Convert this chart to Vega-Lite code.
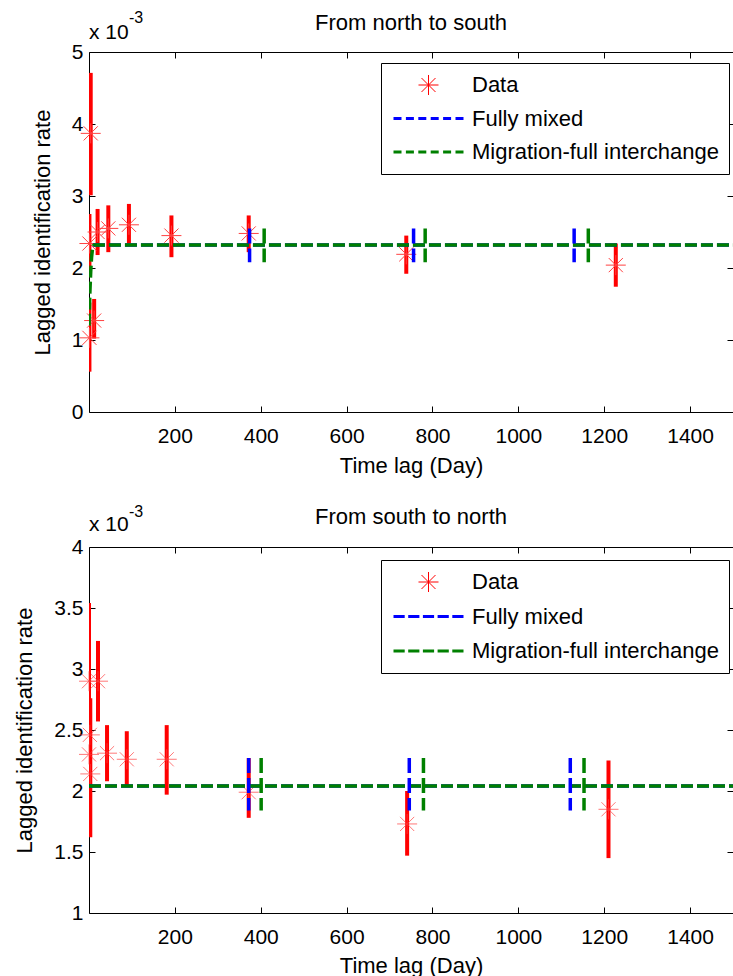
{
  "$schema": "https://vega.github.io/schema/vega-lite/v6.json",
  "background": "white",
  "padding": {"left": 13, "top": 10, "right": 0, "bottom": 0},
  "spacing": 28,
  "config": {
    "font": "Liberation Sans",
    "view": {"stroke": null},
    "axis": {"labelFont": "Liberation Sans", "titleFont": "Liberation Sans", "labelFontSize": 21, "titleFontSize": 22, "titleFontWeight": "normal", "labelColor": "black", "titleColor": "black", "domainColor": "black", "tickColor": "black", "grid": false, "tickSize": -6, "tickWidth": 1, "domainWidth": 1, "labelFlush": false, "labelOverlap": false},
    "title": {"font": "Liberation Sans", "fontSize": 22, "fontWeight": "normal", "color": "black", "anchor": "middle", "offset": -25},
    "legend": {"orient": "none", "strokeColor": "black", "fillColor": "white", "padding": 9, "labelFont": "Liberation Sans", "labelFontSize": 22, "labelColor": "black", "labelOffset": 7, "symbolOffset": 2, "rowPadding": 7.5, "clipHeight": 26, "symbolFillColor": "transparent", "labelLimit": 400}
  },
  "resolve": {"scale": {"x": "independent", "y": "independent", "color": "independent"}, "axis": {"x": "independent", "y": "independent"}, "legend": {"color": "independent"}},
  "vconcat": [
    {
      "width": 644,
      "height": 360,
      "title": {"text": "From north to south"},
      "resolve": {"axis": {"x": "independent", "y": "independent"}},
      "layer": [
        {
          "data": {"values": [
            {"series": "Data", "lag": 1, "rate": 2.34, "lo": 1.90, "hi": 2.75},
            {"series": "Data", "lag": 4, "rate": 3.87, "lo": 3.01, "hi": 4.71},
            {"series": "Data", "lag": 1, "rate": 1.03, "lo": 0.56, "hi": 1.52},
            {"series": "Data", "lag": 12, "rate": 1.27, "lo": 1.02, "hi": 1.57},
            {"series": "Data", "lag": 20, "rate": 2.50, "lo": 2.18, "hi": 2.82},
            {"series": "Data", "lag": 45, "rate": 2.55, "lo": 2.22, "hi": 2.87},
            {"series": "Data", "lag": 93, "rate": 2.60, "lo": 2.34, "hi": 2.89},
            {"series": "Data", "lag": 192, "rate": 2.45, "lo": 2.15, "hi": 2.73},
            {"series": "Data", "lag": 372, "rate": 2.48, "lo": 2.22, "hi": 2.73},
            {"series": "Data", "lag": 739, "rate": 2.19, "lo": 1.92, "hi": 2.45},
            {"series": "Data", "lag": 1227, "rate": 2.04, "lo": 1.74, "hi": 2.34}
          ]},
          "resolve": {"axis": {"x": "independent", "y": "independent"}},
          "layer": [
            {
              "mark": {"type": "rule", "strokeWidth": 4, "clip": true},
              "encoding": {
                "x": {"field": "lag", "type": "quantitative", "scale": {"domain": [0, 1500], "nice": false, "zero": false}, "axis": {"orient": "bottom", "values": [200, 400, 600, 800, 1000, 1200, 1400], "format": "d", "title": "Time lag (Day)", "labelPadding": 19, "titlePadding": 9}},
                "y": {"field": "lo", "type": "quantitative", "scale": {"domain": [0, 5], "nice": false, "zero": false}, "axis": {"orient": "left", "values": [0, 1, 2, 3, 4, 5], "format": "d", "title": "Lagged identification rate", "labelPadding": 12, "titlePadding": 17}},
                "y2": {"field": "hi"},
                "color": {"field": "series", "type": "nominal", "scale": {"domain": ["Data", "Fully mixed", "Migration-full interchange"], "range": ["#ff0000", "#0000ff", "#008000"]},
                  "legend": {"title": null, "legendX": 292, "legendY": 11,
                    "encode": {"symbols": {"update": {
                      "shape": {"signal": "(datum.value === 'Data' ? 'M-0.286,0H0.286M0,-0.286V0.286M-0.2,-0.2L0.2,0.2M-0.2,0.2L0.2,-0.2' : 'M-1,0h0.2286M-0.6457,0h0.2286M-0.2914,0h0.2286M0.0629,0h0.2286M0.4171,0h0.2286M0.7714,0h0.2286')"},
                      "strokeWidth": {"signal": "(datum.value === 'Data' ? 1 : 3)"},
                      "stroke": {"signal": "(datum.value === 'Data' ? '#ff4040' : datum.value === 'Fully mixed' ? '#0000ff' : '#008000')"},
                      "fill": {"value": "transparent"},
                      "size": {"value": 4900}
                    }}}}}
              }
            },
            {
              "mark": {"type": "point", "shape": "M-1,0H1M0,-1V1M-0.707,-0.707L0.707,0.707M-0.707,0.707L0.707,-0.707", "size": 400, "filled": false, "stroke": "#ff4040", "strokeWidth": 1, "opacity": 1},
              "encoding": {
                "x": {"field": "lag", "type": "quantitative", "scale": {"domain": [0, 1500], "nice": false, "zero": false}, "axis": null},
                "y": {"field": "rate", "type": "quantitative", "scale": {"domain": [0, 5], "nice": false, "zero": false}, "axis": null}
              }
            }
          ]
        },
        {
          "data": {"values": [
            {"series": "Fully mixed", "lag": 0, "rate": 2.32},
            {"series": "Fully mixed", "lag": 1500, "rate": 2.32}
          ]},
          "mark": {"type": "line", "strokeWidth": 3.5, "strokeDash": [12, 4], "strokeDashOffset": 12, "clip": true},
          "encoding": {
            "x": {"field": "lag", "type": "quantitative", "scale": {"domain": [0, 1500], "nice": false, "zero": false}, "axis": {"orient": "top", "values": [200, 400, 600, 800, 1000, 1200, 1400], "labels": false, "title": null}},
            "y": {"field": "rate", "type": "quantitative", "scale": {"domain": [0, 5], "nice": false, "zero": false}, "axis": {"orient": "right", "values": [0, 1, 2, 3, 4, 5], "labels": false, "title": null, "domain": false}},
            "color": {"field": "series", "type": "nominal"}
          }
        },
        {
          "data": {"values": [
            {"series": "Migration-full interchange", "lag": 0, "rate": 1.2},
            {"series": "Migration-full interchange", "lag": 2, "rate": 1.65},
            {"series": "Migration-full interchange", "lag": 4, "rate": 1.95},
            {"series": "Migration-full interchange", "lag": 6, "rate": 2.15},
            {"series": "Migration-full interchange", "lag": 8, "rate": 2.26},
            {"series": "Migration-full interchange", "lag": 10, "rate": 2.31},
            {"series": "Migration-full interchange", "lag": 12, "rate": 2.32},
            {"series": "Migration-full interchange", "lag": 1500, "rate": 2.32}
          ]},
          "mark": {"type": "line", "strokeWidth": 3.5, "strokeDash": [12, 4], "clip": true},
          "encoding": {
            "x": {"field": "lag", "type": "quantitative", "scale": {"domain": [0, 1500], "nice": false, "zero": false}, "axis": null},
            "y": {"field": "rate", "type": "quantitative", "scale": {"domain": [0, 5], "nice": false, "zero": false}, "axis": null},
            "color": {"field": "series", "type": "nominal"}
          }
        },
        {
          "data": {"values": [
            {"series": "Fully mixed", "lag": 374, "lo": 2.08, "hi": 2.55},
            {"series": "Migration-full interchange", "lag": 408, "lo": 2.08, "hi": 2.55},
            {"series": "Fully mixed", "lag": 756, "lo": 2.08, "hi": 2.55},
            {"series": "Migration-full interchange", "lag": 783, "lo": 2.08, "hi": 2.55},
            {"series": "Fully mixed", "lag": 1130, "lo": 2.08, "hi": 2.55},
            {"series": "Migration-full interchange", "lag": 1163, "lo": 2.08, "hi": 2.55}
          ]},
          "mark": {"type": "rule", "strokeWidth": 3.5, "strokeDash": [15, 5]},
          "encoding": {
            "x": {"field": "lag", "type": "quantitative", "scale": {"domain": [0, 1500], "nice": false, "zero": false}, "axis": null},
            "y": {"field": "hi", "type": "quantitative", "scale": {"domain": [0, 5], "nice": false, "zero": false}, "axis": null},
            "y2": {"field": "lo"},
            "color": {"field": "series", "type": "nominal"}
          }
        },
        {
          "data": {"values": [{"lag": 0, "rate": 5, "label": "x 10", "sup": "-3"}]},
          "resolve": {"axis": {"x": "independent", "y": "independent"}},
          "layer": [
            {
              "mark": {"type": "text", "align": "left", "baseline": "alphabetic", "fontSize": 21, "dy": -13, "dx": 0, "color": "black"},
              "encoding": {
                "x": {"field": "lag", "type": "quantitative", "scale": {"domain": [0, 1500], "nice": false, "zero": false}, "axis": null},
                "y": {"field": "rate", "type": "quantitative", "scale": {"domain": [0, 5], "nice": false, "zero": false}, "axis": null},
                "text": {"field": "label"}
              }
            },
            {
              "mark": {"type": "text", "align": "left", "baseline": "alphabetic", "fontSize": 16, "dy": -29, "dx": 40, "color": "black"},
              "encoding": {
                "x": {"field": "lag", "type": "quantitative", "scale": {"domain": [0, 1500], "nice": false, "zero": false}, "axis": null},
                "y": {"field": "rate", "type": "quantitative", "scale": {"domain": [0, 5], "nice": false, "zero": false}, "axis": null},
                "text": {"field": "sup"}
              }
            }
          ]
        }
      ]
    },
    {
      "width": 644,
      "height": 366,
      "title": {"text": "From south to north"},
      "resolve": {"axis": {"x": "independent", "y": "independent"}},
      "layer": [
        {
          "data": {"values": [
            {"series": "Data", "lag": 0, "rate": 2.90, "lo": 2.26, "hi": 3.54},
            {"series": "Data", "lag": 3, "rate": 2.14, "lo": 1.62, "hi": 2.76},
            {"series": "Data", "lag": 2, "rate": 2.46, "lo": 2.20, "hi": 2.72},
            {"series": "Data", "lag": 0, "rate": 2.30, "lo": 2.05, "hi": 2.55},
            {"series": "Data", "lag": 21, "rate": 2.90, "lo": 2.57, "hi": 3.23},
            {"series": "Data", "lag": 42, "rate": 2.31, "lo": 2.08, "hi": 2.54},
            {"series": "Data", "lag": 88, "rate": 2.26, "lo": 2.05, "hi": 2.49},
            {"series": "Data", "lag": 181, "rate": 2.26, "lo": 1.97, "hi": 2.54},
            {"series": "Data", "lag": 372, "rate": 1.99, "lo": 1.78, "hi": 2.27},
            {"series": "Data", "lag": 741, "rate": 1.73, "lo": 1.47, "hi": 2.00},
            {"series": "Data", "lag": 1210, "rate": 1.85, "lo": 1.45, "hi": 2.25}
          ]},
          "resolve": {"axis": {"x": "independent", "y": "independent"}},
          "layer": [
            {
              "mark": {"type": "rule", "strokeWidth": 4, "clip": true},
              "encoding": {
                "x": {"field": "lag", "type": "quantitative", "scale": {"domain": [0, 1500], "nice": false, "zero": false}, "axis": {"orient": "bottom", "values": [200, 400, 600, 800, 1000, 1200, 1400], "format": "d", "title": "Time lag (Day)", "labelPadding": 19, "titlePadding": 8}},
                "y": {"field": "lo", "type": "quantitative", "scale": {"domain": [1, 4], "nice": false, "zero": false}, "axis": {"orient": "left", "values": [1, 1.5, 2, 2.5, 3, 3.5, 4], "format": "~g", "title": "Lagged identification rate", "labelPadding": 12, "titlePadding": 17}},
                "y2": {"field": "hi"},
                "color": {"field": "series", "type": "nominal", "scale": {"domain": ["Data", "Fully mixed", "Migration-full interchange"], "range": ["#ff0000", "#0000ff", "#008000"]},
                  "legend": {"title": null, "legendX": 292, "legendY": 13, "rowPadding": 8.5,
                    "encode": {"symbols": {"update": {
                      "shape": {"signal": "(datum.value === 'Data' ? 'M-0.286,0H0.286M0,-0.286V0.286M-0.2,-0.2L0.2,0.2M-0.2,0.2L0.2,-0.2' : 'M-1,0h0.32M-0.58,0h0.32M-0.16,0h0.32M0.26,0h0.32M0.68,0h0.32')"},
                      "strokeWidth": {"signal": "(datum.value === 'Data' ? 1 : 3)"},
                      "stroke": {"signal": "(datum.value === 'Data' ? '#ff4040' : datum.value === 'Fully mixed' ? '#0000ff' : '#008000')"},
                      "fill": {"value": "transparent"},
                      "size": {"value": 4900}
                    }}}}}
              }
            },
            {
              "mark": {"type": "point", "shape": "M-1,0H1M0,-1V1M-0.707,-0.707L0.707,0.707M-0.707,0.707L0.707,-0.707", "size": 400, "filled": false, "stroke": "#ff4040", "strokeWidth": 1},
              "encoding": {
                "x": {"field": "lag", "type": "quantitative", "scale": {"domain": [0, 1500], "nice": false, "zero": false}, "axis": null},
                "y": {"field": "rate", "type": "quantitative", "scale": {"domain": [1, 4], "nice": false, "zero": false}, "axis": null}
              }
            }
          ]
        },
        {
          "data": {"values": [
            {"series": "Fully mixed", "lag": 0, "rate": 2.04},
            {"series": "Fully mixed", "lag": 1500, "rate": 2.04}
          ]},
          "mark": {"type": "line", "strokeWidth": 3.5, "strokeDash": [12, 4], "clip": true},
          "encoding": {
            "x": {"field": "lag", "type": "quantitative", "scale": {"domain": [0, 1500], "nice": false, "zero": false}, "axis": {"orient": "top", "values": [200, 400, 600, 800, 1000, 1200, 1400], "labels": false, "title": null}},
            "y": {"field": "rate", "type": "quantitative", "scale": {"domain": [1, 4], "nice": false, "zero": false}, "axis": {"orient": "right", "values": [1, 1.5, 2, 2.5, 3, 3.5, 4], "labels": false, "title": null, "domain": false}},
            "color": {"field": "series", "type": "nominal"}
          }
        },
        {
          "data": {"values": [
            {"series": "Migration-full interchange", "lag": 0, "rate": 2.04},
            {"series": "Migration-full interchange", "lag": 1500, "rate": 2.04}
          ]},
          "mark": {"type": "line", "strokeWidth": 3.5, "strokeDash": [12, 4], "clip": true},
          "encoding": {
            "x": {"field": "lag", "type": "quantitative", "scale": {"domain": [0, 1500], "nice": false, "zero": false}, "axis": null},
            "y": {"field": "rate", "type": "quantitative", "scale": {"domain": [1, 4], "nice": false, "zero": false}, "axis": null},
            "color": {"field": "series", "type": "nominal"}
          }
        },
        {
          "data": {"values": [
            {"series": "Fully mixed", "lag": 372, "lo": 1.84, "hi": 2.27},
            {"series": "Migration-full interchange", "lag": 401, "lo": 1.84, "hi": 2.27},
            {"series": "Fully mixed", "lag": 746, "lo": 1.84, "hi": 2.27},
            {"series": "Migration-full interchange", "lag": 779, "lo": 1.84, "hi": 2.27},
            {"series": "Fully mixed", "lag": 1121, "lo": 1.84, "hi": 2.27},
            {"series": "Migration-full interchange", "lag": 1153, "lo": 1.84, "hi": 2.27}
          ]},
          "mark": {"type": "rule", "strokeWidth": 3.5, "strokeDash": [15, 5]},
          "encoding": {
            "x": {"field": "lag", "type": "quantitative", "scale": {"domain": [0, 1500], "nice": false, "zero": false}, "axis": null},
            "y": {"field": "hi", "type": "quantitative", "scale": {"domain": [1, 4], "nice": false, "zero": false}, "axis": null},
            "y2": {"field": "lo"},
            "color": {"field": "series", "type": "nominal"}
          }
        },
        {
          "data": {"values": [{"lag": 0, "rate": 4, "label": "x 10", "sup": "-3"}]},
          "resolve": {"axis": {"x": "independent", "y": "independent"}},
          "layer": [
            {
              "mark": {"type": "text", "align": "left", "baseline": "alphabetic", "fontSize": 21, "dy": -16, "dx": 0, "color": "black"},
              "encoding": {
                "x": {"field": "lag", "type": "quantitative", "scale": {"domain": [0, 1500], "nice": false, "zero": false}, "axis": null},
                "y": {"field": "rate", "type": "quantitative", "scale": {"domain": [1, 4], "nice": false, "zero": false}, "axis": null},
                "text": {"field": "label"}
              }
            },
            {
              "mark": {"type": "text", "align": "left", "baseline": "alphabetic", "fontSize": 16, "dy": -30, "dx": 40, "color": "black"},
              "encoding": {
                "x": {"field": "lag", "type": "quantitative", "scale": {"domain": [0, 1500], "nice": false, "zero": false}, "axis": null},
                "y": {"field": "rate", "type": "quantitative", "scale": {"domain": [1, 4], "nice": false, "zero": false}, "axis": null},
                "text": {"field": "sup"}
              }
            }
          ]
        }
      ]
    }
  ]
}
